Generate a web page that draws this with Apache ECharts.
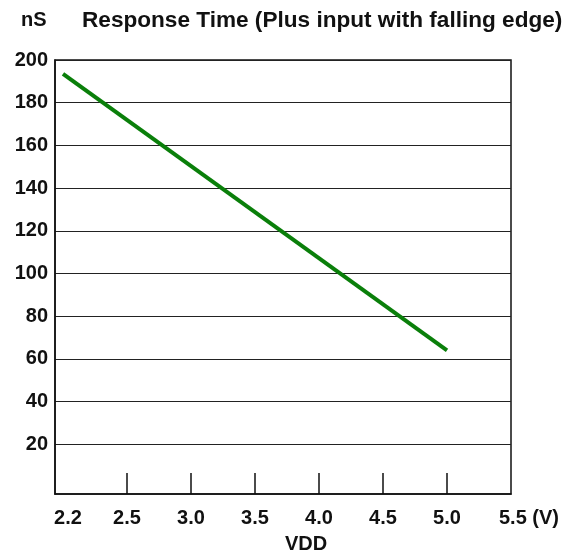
<!DOCTYPE html>
<html>
<head>
<meta charset="utf-8">
<script src="https://cdn.jsdelivr.net/npm/echarts@6/dist/echarts.min.js"></script>
<style>
  html, body { margin: 0; padding: 0; background: #fff; }
  #chart { width: 571px; height: 554px; }
</style>
</head>
<body>
<div id="chart"></div>
<script>
// response time vs supply voltage
var vdd = [2.0, 5.0];
var respNs = [193.5, 64];

// axis ticks (the left edge is labelled 2.2 though it sits below 2.0 on the scale)
var xTickValues = [2.5, 3.0, 3.5, 4.0, 4.5, 5.0];
var xLabelValues = [1.9375, 2.5, 3.0, 3.5, 4.0, 4.5, 5.0, 5.5];
var xLabelTexts = ['2.2', '2.5', '3.0', '3.5', '4.0', '4.5', '5.0', '5.5 (V)'];
var yTickValues = [20, 40, 60, 80, 100, 120, 140, 160, 180, 200];

var font = 'Liberation Sans, Arial, sans-serif';
var chart = echarts.init(document.getElementById('chart'));

chart.setOption({
    animation: false,
    title: [
        { text: 'nS', left: 21, top: 10, padding: 0, textStyle: { fontFamily: font, fontSize: 20, fontWeight: 'bold', color: '#111' } },
        { text: 'Response Time (Plus input with falling edge)', left: 82, top: 9, padding: 0, textStyle: { fontFamily: font, fontSize: 22.6, fontWeight: 'bold', color: '#111' } }
    ],
    grid: {
        left: 55, right: 60, top: 60, bottom: 60,
        outerBoundsMode: 'none',
        containLabel: false,
        show: true, borderColor: '#111', borderWidth: 1.5
    },
    xAxis: {
        type: 'value',
        min: 1.9375,
        max: 5.5,
        name: 'VDD',
        nameLocation: 'middle',
        nameGap: 40,
        nameTextStyle: { fontFamily: font, fontSize: 20, fontWeight: 'bold', color: '#111', padding: [0, 0, 0, 46] },
        axisLine: { onZero: false, lineStyle: { color: '#111', width: 1.5 } },
        axisTick: { show: true, inside: true, length: 21, customValues: xTickValues, lineStyle: { color: '#111', width: 1.5 } },
        splitLine: { show: false },
        axisLabel: {
            customValues: xLabelValues,
            margin: 14,
            fontFamily: font, fontSize: 20, fontWeight: 'bold', color: '#111',
            formatter: function (v) {
                var i = xLabelValues.indexOf(v);
                var t = xLabelTexts[i];
                if (i === 0) return '{l|' + t + '}';
                if (i === xLabelValues.length - 1) return '{r|' + t + '}';
                return t;
            },
            rich: {
                l: { fontFamily: font, fontSize: 20, fontWeight: 'bold', color: '#111', padding: [0, 0, 0, 26] },
                r: { fontFamily: font, fontSize: 20, fontWeight: 'bold', color: '#111', padding: [0, 0, 0, 36] }
            }
        }
    },
    yAxis: {
        type: 'value',
        min: -3.3,
        max: 200,
        axisLine: { show: true, onZero: false, lineStyle: { color: '#111', width: 1.5 } },
        axisTick: { show: false, customValues: yTickValues },
        splitLine: { show: true, lineStyle: { color: '#222', width: 1.2 } },
        axisLabel: {
            customValues: yTickValues,
            margin: 7,
            fontFamily: font, fontSize: 20, fontWeight: 'bold', color: '#111'
        }
    },
    series: [{
        type: 'line',
        data: vdd.map(function (v, i) { return [v, respNs[i]]; }),
        showSymbol: false,
        lineStyle: { color: '#0a7f0a', width: 4 }
    }]
});
</script>
</body>
</html>
